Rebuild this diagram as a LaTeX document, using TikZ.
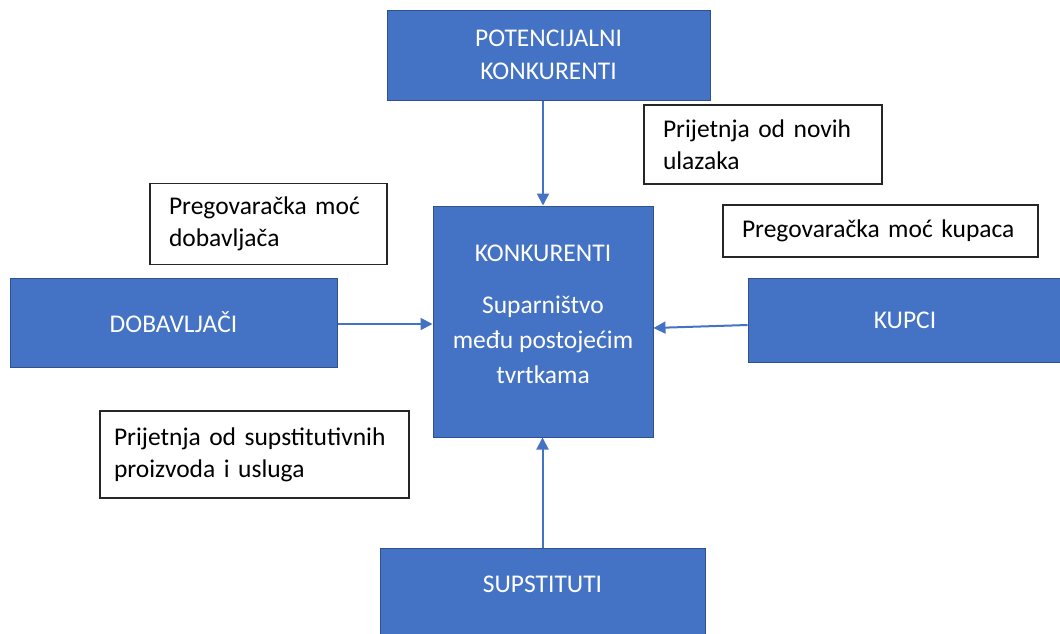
\documentclass[tikz,border=0pt]{standalone}
\usepackage{fontspec}
\setmainfont{Carlito}
\usetikzlibrary{arrows.meta,positioning}
\definecolor{pblue}{HTML}{4472C4}
\definecolor{pedge}{HTML}{2F528F}

\begin{document}
\begin{tikzpicture}[x=1pt, y=-1pt,
    force/.style={rectangle, draw=pedge, line width=1pt, fill=pblue, text=white,
                  align=center, inner sep=0pt, font=\fontsize{25.5}{33}\selectfont},
    note/.style={rectangle, draw=black!85, line width=1.6pt, fill=white, align=left,
                 inner xsep=19pt, inner ysep=0pt, font=\fontsize{25.5}{32}\selectfont},
    arr/.style={-{Triangle[length=12pt, width=12pt]}, draw=pblue, line width=2pt},
  ]
  \useasboundingbox (0,0) rectangle (1060,633);

  % the five forces
  \node[force, minimum width=323, minimum height=90] (pot) at (548.5,55)
    {POTENCIJALNI\\KONKURENTI};
  \node[force, minimum width=220, minimum height=231, font=\fontsize{25.5}{35}\selectfont]
    (konk) at (543,321.5)
    {KONKURENTI\\[17pt]Suparništvo\\među postojećim\\tvrtkama\\[-20pt]\mbox{}};
  \node[force, minimum width=327, minimum height=89] (dob) at (173.5,322.5)
    {DOBAVLJAČI};
  \node[force, minimum width=314, minimum height=84] (kup) at (905,320)
    {KUPCI};
  \node[force, align=none, minimum width=325, text height=44pt, text depth=58pt,
        anchor=north] (sup) at (542.5,548) {SUPSTITUTI};

  % notes
  \node[note, minimum width=237, minimum height=81, text width=199pt] (dobnote)
    at (268.5,224) {Pregovaračka moć\\dobavljača};
  \node[note, minimum width=238, minimum height=79, text width=200pt] (novnote)
    at (763,144.5) {Prijetnja od novih\\ulazaka};
  \node[note, minimum width=315, minimum height=52, text width=277pt] (kupnote)
    at (880.5,231) {Pregovaračka moć kupaca};
  \node[note, minimum width=309, minimum height=87, inner xsep=14pt, text width=281pt]
    (supnote) at (254.5,454.5) {Prijetnja od supstitutivnih\\proizvoda i usluga};

  % arrows into the centre
  \draw[arr] (pot.south -| konk.north) -- (konk.north);
  \draw[arr] ([yshift=-1.5pt]dob.east) -- ([yshift=-2.5pt]konk.west);
  \draw[arr] ([yshift=-5pt]kup.west) -- ([yshift=-6.5pt]konk.east);
  \draw[arr] (sup.north) -- (sup.north |- konk.south);
\end{tikzpicture}
\end{document}
